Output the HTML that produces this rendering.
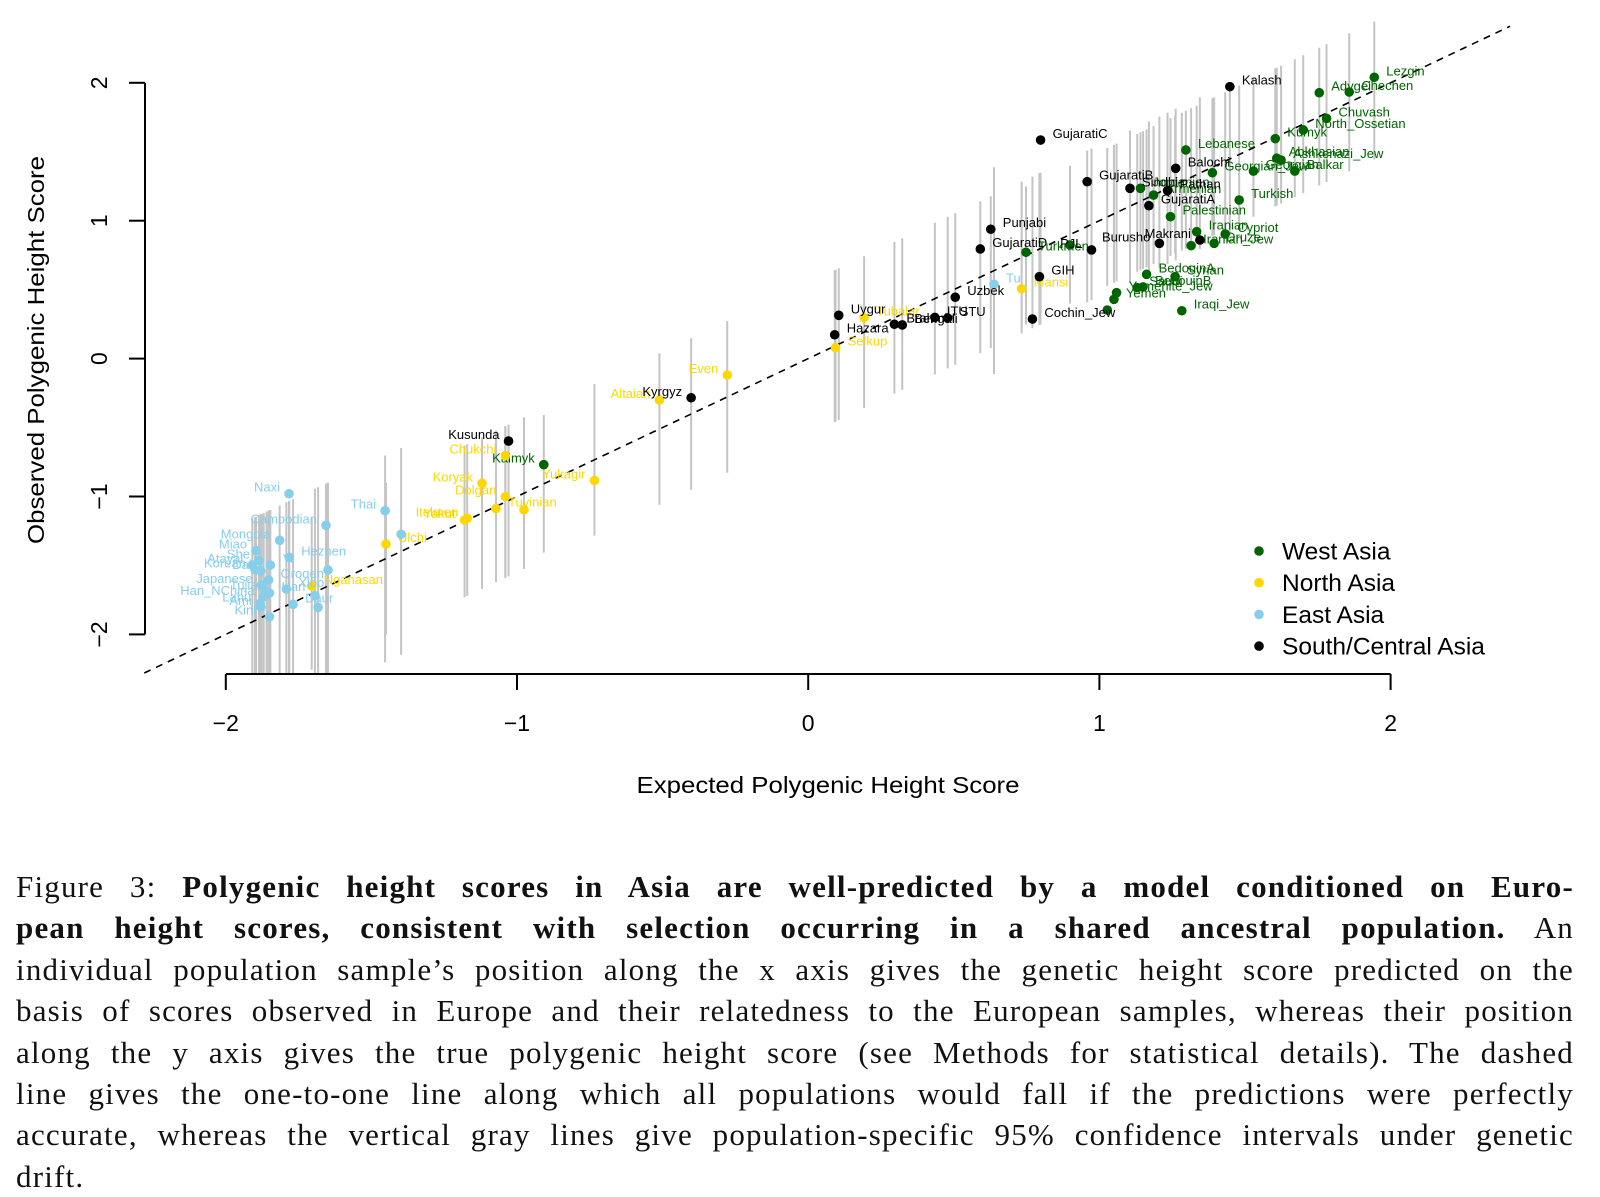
<!DOCTYPE html>
<html><head><meta charset="utf-8">
<style>
body{margin:0;background:#fff;width:1600px;height:1193px;overflow:hidden;position:relative;font-family:"Liberation Sans",sans-serif;}
#chart{position:absolute;left:0;top:0;}
#caption{position:absolute;left:16px;top:866px;width:1558px;font-family:"Liberation Serif",serif;font-size:31px;letter-spacing:1.2px;line-height:41.4px;color:#111;}
#caption div{text-align:justify;text-align-last:justify;white-space:nowrap;}
#caption div.last{text-align-last:left;}
</style></head>
<body>
<svg id="chart" width="1600" height="860" xmlns="http://www.w3.org/2000/svg"></svg>
<div id="caption">
<div>Figure 3: <b>Polygenic height scores in Asia are well-predicted by a model conditioned on Euro-</b></div>
<div><b>pean height scores, consistent with selection occurring in a shared ancestral population.</b> An</div>
<div>individual population sample’s position along the x axis gives the genetic height score predicted on the</div>
<div>basis of scores observed in Europe and their relatedness to the European samples, whereas their position</div>
<div>along the y axis gives the true polygenic height score (see Methods for statistical details). The dashed</div>
<div>line gives the one-to-one line along which all populations would fall if the predictions were perfectly</div>
<div>accurate, whereas the vertical gray lines give population-specific 95% confidence intervals under genetic</div>
<div class="last">drift.</div>
</div>
<script>
const xTicks=[-2,-1,0,1,2];
const yTicks=[-2,-1,0,1,2];
const groupNames=["West Asia","North Asia","East Asia","South/Central Asia"];
const groupColors=["#006400","#FFD700","#87CEEB","#000000"];
const ciHalf=[0.5,0.55,0.75,0.55];

const westNames=["Lezgin","Chechen","Adygei","Chuvash","North_Ossetian","Kumyk","Lebanese","Abkhasian","Ashkenazi_Jew","Georgian","Balkar","Georgian_Jew","Jordanian","Armenian","Turkish","Palestinian","Iranian","Cypriot","Druze","Iranian_Jew","Turkmen","","BedouinA","Syrian","Saudi","BedouinB","Yemenite_Jew","Yemen","Iraqi_Jew","","Kalmyk"];
const westX=[1.944,1.858,1.755,1.780,1.700,1.604,1.297,1.609,1.624,1.529,1.671,1.388,1.141,1.186,1.480,1.244,1.334,1.432,1.394,1.315,0.748,0.899,1.162,1.260,1.130,1.150,1.059,1.050,1.283,1.027,-0.908];
const westY=[2.04,1.933,1.928,1.742,1.658,1.595,1.513,1.453,1.440,1.360,1.360,1.348,1.235,1.186,1.150,1.029,0.920,0.903,0.836,0.819,0.771,0.824,0.611,0.594,0.514,0.52,0.478,0.430,0.347,0.352,-0.769];

const northNames=["Mansi","Tubalar","Selkup","Even","Altaian","Yukagir","Chukchi","Dolgan","Koryak","Tuvinian","","Itelmen","Yakut","Nganasan","Ulchi"];
const northX=[0.733,0.192,0.094,-0.278,-0.511,-0.734,-1.040,-1.040,-1.120,-1.072,-0.976,-1.171,-1.18,-1.705,-1.45];
const northY=[0.507,0.297,0.079,-0.119,-0.300,-0.883,-0.704,-1.001,-0.904,-1.088,-1.096,-1.158,-1.17,-1.649,-1.345];

const eastNames=["Tu","Thai","","Cambodian","Naxi","Mongola","Miao","She","Atayal","Yi","Korean","Dai","Oroqen","Japanese","Han_NChina","Lahu","Tujia","Han","Ami","Kinh","Daur","Xibo","Hezhen","","",""];
const eastX=[0.638,-1.453,-1.398,-1.656,-1.783,-1.815,-1.896,-1.886,-1.909,-1.847,-1.90,-1.88,-1.853,-1.877,-1.870,-1.882,-1.86,-1.85,-1.88,-1.850,-1.769,-1.792,-1.782,-1.649,-1.694,-1.683];
const eastY=[0.539,-1.103,-1.274,-1.209,-0.980,-1.318,-1.393,-1.463,-1.497,-1.497,-1.53,-1.54,-1.605,-1.642,-1.727,-1.775,-1.69,-1.70,-1.80,-1.872,-1.782,-1.671,-1.441,-1.533,-1.719,-1.804];

const southNames=["Kalash","GujaratiC","Balochi","GujaratiB","Sindhi","Pathan","GujaratiA","Burusho","Makrani","PJL","Punjabi","GujaratiD","GIH","Uzbek","Cochin_Jew","STU","ITU","Bengali","Brahmin","Uygur","Hazara","Kyrgyz","Kusunda"];
const southX=[1.448,0.798,1.262,0.958,1.105,1.234,1.170,1.206,1.345,0.973,0.627,0.591,0.794,0.505,0.770,0.479,0.435,0.323,0.296,0.105,0.091,-0.402,-1.029];
const southY=[1.972,1.585,1.380,1.283,1.235,1.218,1.109,0.836,0.86,0.788,0.938,0.795,0.594,0.445,0.287,0.294,0.299,0.244,0.249,0.314,0.173,-0.284,-0.598];

const leftLabels=new Set(["Burusho","Makrani","PJL","Kyrgyz","Kusunda","Even","Altaian","Yukagir","Chukchi","Dolgan","Koryak","Yakut","Itelmen","Kalmyk","Cambodian","Naxi","Mongola","Miao","She","Atayal","Korean","Dai","Japanese","Han_NChina","Lahu","Tujia","Ami","Kinh","Thai"]);

const NS="http://www.w3.org/2000/svg";
const svg=document.getElementById('chart');
const X=v=>808.2+v*291.2;
const Y=v=>358.6-v*137.9;
function mk(tag,attrs,parent){const e=document.createElementNS(NS,tag);for(const k in attrs)e.setAttribute(k,attrs[k]);(parent||svg).appendChild(e);return e;}

const defs=mk('defs',{});
const cp=mk('clipPath',{id:'plotclip'},defs);
mk('rect',{x:140,y:0,width:1460,height:675},cp);

const bars=mk('g',{'clip-path':'url(#plotclip)'});


const groups=[[westNames,westX,westY],[northNames,northX,northY],[eastNames,eastX,eastY],[southNames,southX,southY]];
groups.forEach((g,gi)=>{g[1].forEach((xv,i)=>{
  const l=mk('line',{x1:X(xv),x2:X(xv),y1:Y(xv+ciHalf[gi]),y2:Y(xv-ciHalf[gi]),stroke:'#c4c4c4','stroke-width':2},bars);
  
  
});});

const diag=mk('line',{x1:X(-2.28),y1:Y(-2.28),x2:X(2.41),y2:Y(2.41),stroke:'#000','stroke-width':1.6,'stroke-dasharray':'7,6'});



const xa=mk('g',{});


mk('line',{x1:X(-2),x2:X(2),y1:674,y2:674,stroke:'#000','stroke-width':2},xa);
xTicks.forEach(t=>{
  mk('line',{x1:X(t),x2:X(t),y1:674,y2:690,stroke:'#000','stroke-width':2},xa);
  const tx=mk('text',{x:X(t),y:731,'font-size':23,'text-anchor':'middle'},xa);
  tx.textContent=(t<0?'\u2212':'')+Math.abs(t);
  
  
});
const ya=mk('g',{});


mk('line',{x1:145,x2:145,y1:Y(2),y2:Y(-2),stroke:'#000','stroke-width':2},ya);
yTicks.forEach(t=>{
  mk('line',{x1:129,x2:145,y1:Y(t),y2:Y(t),stroke:'#000','stroke-width':2},ya);
  const tx=mk('text',{x:0,y:0,'font-size':23,'text-anchor':'middle',transform:`translate(107,${Y(t)}) rotate(-90)`},ya);
  tx.textContent=(t<0?'\u2212':'')+Math.abs(t);
  
  
});
const xt=mk('text',{x:828,y:793,'font-size':23.5,'text-anchor':'middle',textLength:383,lengthAdjust:'spacingAndGlyphs'});
xt.textContent='Expected Polygenic Height Score';


const yt=mk('text',{x:0,y:0,'font-size':23.5,'text-anchor':'middle',textLength:388,lengthAdjust:'spacingAndGlyphs',transform:'translate(44,350) rotate(-90)'});
yt.textContent='Observed Polygenic Height Score';



const pts=mk('g',{});


groups.forEach((g,gi)=>{g[1].forEach((xv,i)=>{
  const c=mk('circle',{cx:X(xv),cy:Y(g[2][i]),r:4.8,fill:groupColors[gi]},pts);
  
  
  const nm=g[0][i];
  if(nm){
    const left=leftLabels.has(nm);
    const t=mk('text',{x:X(xv)+(left?-9:12),y:Y(g[2][i])-2,'font-size':13,fill:groupColors[gi],'text-anchor':left?'end':'start'},pts);
    t.textContent=nm;
    
    
  }
});});

const lg=mk('g',{});


groupNames.forEach((n,i)=>{
  const yy=551+i*31.7;
  mk('circle',{cx:1259,cy:yy,r:4.8,fill:groupColors[i]},lg);
  const t=mk('text',{x:1282,y:yy+8.5,'font-size':24.5},lg);
  t.textContent=n;
  
  
});
</script>
</body></html>
